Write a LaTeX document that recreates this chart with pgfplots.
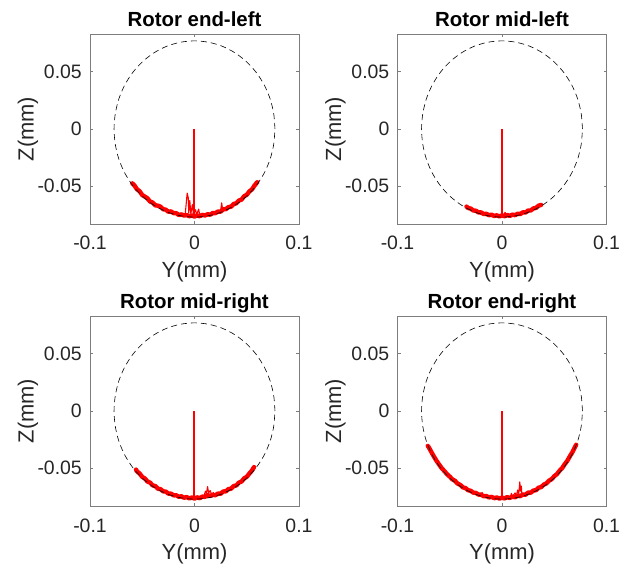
\documentclass[border=0pt]{standalone}
\usepackage{fontspec}
\setmainfont{Liberation Sans}
\usepackage{pgfplots}
\usepackage{pgfplotstable}
\pgfplotsset{compat=1.18}
\definecolor{axgray}{RGB}{125,125,125}
\definecolor{txt}{RGB}{38,38,38}

\pgfplotstableread{
x y
0.0770 0
0.0758 0.0134
0.0724 0.0263
0.0667 0.0385
0.0590 0.0495
0.0495 0.0590
0.0385 0.0667
0.0263 0.0724
0.0134 0.0758
0 0.0770
-0.0134 0.0758
-0.0263 0.0724
-0.0385 0.0667
-0.0495 0.0590
-0.0590 0.0495
-0.0667 0.0385
-0.0724 0.0263
-0.0758 0.0134
-0.0770 0
-0.0758 -0.0134
-0.0724 -0.0263
-0.0667 -0.0385
-0.0590 -0.0495
-0.0495 -0.0590
-0.0385 -0.0667
-0.0263 -0.0724
-0.0134 -0.0758
0 -0.0770
0.0134 -0.0758
0.0263 -0.0724
0.0385 -0.0667
0.0495 -0.0590
0.0590 -0.0495
0.0667 -0.0385
0.0724 -0.0263
0.0758 -0.0134
0.0770 0
}\circdata

\pgfplotstableread{
x y
-0.0595 -0.0475
-0.0575 -0.0493
-0.055 -0.0527
-0.0525 -0.0544
-0.050 -0.0577
-0.0475 -0.0591
-0.045 -0.0606
-0.0425 -0.0634
-0.040 -0.0643
-0.0375 -0.0667
-0.035 -0.0670
-0.0325 -0.0679
-0.030 -0.0701
-0.0275 -0.0705
-0.025 -0.0723
-0.0225 -0.0720
-0.020 -0.0735
-0.0175 -0.0735
-0.015 -0.0751
-0.0125 -0.0746
-0.010 -0.0756
-0.0075 -0.0752
-0.005 -0.0762
-0.0025 -0.0755
0 -0.0765
0.0025 -0.0755
0.005 -0.0762
0.0075 -0.0750
0.010 -0.0756
0.0125 -0.0745
0.015 -0.0749
0.0175 -0.0734
0.020 -0.0735
0.0225 -0.0721
0.025 -0.0722
0.0275 -0.0702
0.030 -0.0701
0.0325 -0.0682
0.035 -0.0679
0.0375 -0.0655
0.040 -0.0649
0.0425 -0.0625
0.045 -0.0617
0.0475 -0.0587
0.050 -0.0575
0.0525 -0.0545
0.055 -0.0528
0.0575 -0.0493
0.060 -0.0465
}\arcA

\pgfplotstableread{
x y
-0.040 -0.0655
-0.037 -0.0650
-0.034 -0.0690
-0.030 -0.0688
-0.026 -0.0722
-0.020 -0.0722
-0.012 -0.0760
-0.009 -0.0757
-0.007 -0.0560
-0.006 -0.0600
-0.0055 -0.0735
-0.0045 -0.0625
-0.0035 -0.0740
-0.002 -0.0660
-0.001 -0.0745
0.001 -0.0705
0.002 -0.0750
0.004 -0.0700
0.005 -0.0755
0.008 -0.0748
0.015 -0.0742
0.020 -0.0728
0.025 -0.0718
0.026 -0.0645
0.027 -0.0712
0.032 -0.0677
0.036 -0.0668
0.041 -0.0635
0.046 -0.0600
}\spikeA

\pgfplotstableread{
x y
-0.034 -0.0678
-0.0325 -0.0690
-0.030 -0.0695
-0.0275 -0.0712
-0.025 -0.0714
-0.0225 -0.0729
-0.020 -0.0729
-0.0175 -0.0743
-0.015 -0.0741
-0.0125 -0.0753
-0.010 -0.0749
-0.0075 -0.0760
-0.005 -0.0754
-0.0025 -0.0764
0 -0.0755
0.0025 -0.0762
0.005 -0.0752
0.0075 -0.0759
0.010 -0.0748
0.0125 -0.0753
0.015 -0.0740
0.0175 -0.0743
0.020 -0.0728
0.0225 -0.0730
0.025 -0.0712
0.0275 -0.0712
0.030 -0.0694
0.0325 -0.0690
0.035 -0.0670
0.0375 -0.0663
}\arcB

\pgfplotstableread{
x y
-0.010 -0.0762
-0.004 -0.0768
0.001 -0.0758
0.003 -0.0728
0.004 -0.0755
0.010 -0.0740
}\spikeB

\pgfplotstableread{
x y
-0.056 -0.0512
-0.055 -0.0528
-0.0525 -0.0546
-0.050 -0.0576
-0.0475 -0.0590
-0.045 -0.0616
-0.0425 -0.0626
-0.040 -0.0650
-0.0375 -0.0656
-0.035 -0.0679
-0.0325 -0.0683
-0.030 -0.0702
-0.0275 -0.0704
-0.025 -0.0722
-0.0225 -0.0722
-0.020 -0.0737
-0.0175 -0.0736
-0.015 -0.0750
-0.0125 -0.0745
-0.010 -0.0758
-0.0075 -0.0752
-0.005 -0.0763
-0.0025 -0.0756
0 -0.0765
0.0025 -0.0754
0.005 -0.0762
0.0075 -0.0748
0.010 -0.0750
0.0125 -0.0735
0.015 -0.0742
0.0175 -0.0733
0.020 -0.0736
0.0225 -0.0721
0.025 -0.0723
0.0275 -0.0703
0.030 -0.0702
0.0325 -0.0682
0.035 -0.0679
0.0375 -0.0656
0.040 -0.0650
0.0425 -0.0626
0.045 -0.0616
0.0475 -0.0589
0.050 -0.0575
0.0525 -0.0546
0.055 -0.0520
0.057 -0.0490
}\arcC

\pgfplotstableread{
x y
-0.045 -0.0602
-0.040 -0.0638
-0.035 -0.0668
-0.030 -0.0694
-0.022 -0.0735
-0.012 -0.0760
0.002 -0.0768
0.009 -0.0745
0.0105 -0.0700
0.0115 -0.0722
0.0125 -0.0660
0.0135 -0.0715
0.015 -0.0695
0.0165 -0.0735
0.018 -0.0712
0.019 -0.0740
0.030 -0.0690
0.040 -0.0640
0.048 -0.0580
}\spikeC

\pgfplotstableread{
x y
-0.071 -0.0305
-0.070 -0.0318
-0.0675 -0.0360
-0.065 -0.0400
-0.0625 -0.0437
-0.060 -0.0470
-0.0575 -0.0502
-0.055 -0.0526
-0.0525 -0.0553
-0.050 -0.0573
-0.0475 -0.0597
-0.045 -0.0610
-0.0425 -0.0634
-0.040 -0.0645
-0.0375 -0.0667
-0.035 -0.0673
-0.0325 -0.0692
-0.030 -0.0697
-0.0275 -0.0713
-0.025 -0.0716
-0.0225 -0.0730
-0.020 -0.0731
-0.0175 -0.0745
-0.015 -0.0743
-0.0125 -0.0755
-0.010 -0.0750
-0.0075 -0.0762
-0.005 -0.0755
-0.0025 -0.0765
0 -0.0757
0.0025 -0.0764
0.005 -0.0752
0.0075 -0.0760
0.010 -0.0748
0.0125 -0.0754
0.015 -0.0740
0.0175 -0.0744
0.020 -0.0729
0.0225 -0.0732
0.025 -0.0713
0.0275 -0.0714
0.030 -0.0695
0.0325 -0.0692
0.035 -0.0670
0.0375 -0.0665
0.040 -0.0643
0.0425 -0.0633
0.045 -0.0608
0.0475 -0.0596
0.050 -0.0570
0.0525 -0.0552
0.055 -0.0523
0.0575 -0.0500
0.060 -0.0465
0.0625 -0.0435
0.065 -0.0395
0.0675 -0.0358
0.070 -0.0312
0.071 -0.0295
}\arcD

\pgfplotstableread{
x y
-0.055 -0.0535
-0.045 -0.0618
-0.030 -0.0705
-0.020 -0.0731
-0.019 -0.0712
-0.018 -0.0742
-0.010 -0.0762
0.000 -0.0768
0.008 -0.0755
0.009 -0.0720
0.010 -0.0750
0.0125 -0.0715
0.0135 -0.0748
0.015 -0.0690
0.016 -0.0730
0.017 -0.0620
0.0178 -0.0700
0.0185 -0.0655
0.019 -0.0725
0.021 -0.0735
0.035 -0.0680
0.050 -0.0580
0.060 -0.0478
}\spikeD

\pgfplotstableread{
x y
0 0
0 -0.0740
}\stem

\pgfplotsset{
 rotorax/.style={
  width=209bp, height=190bp, scale only axis, anchor=south west,
  xmin=-0.1, xmax=0.1, ymin=-0.083, ymax=0.083,
  scaled x ticks=false, scaled y ticks=false,
  xtick={-0.1,0,0.1}, xticklabels={-0.1,0,0.1},
  ytick={-0.05,0,0.05}, yticklabels={-0.05,0,0.05},
  tick align=inside, major tick length=3bp,
  axis line style={axgray, line width=0.6bp},
  every tick/.style={axgray, line width=0.6bp},
  tick label style={font=\fontsize{19.5}{21}\selectfont, text=txt},
  xticklabel style={anchor=base, yshift=-26bp, inner sep=0pt},
  yticklabel style={anchor=east, inner sep=0pt, xshift=-8bp},
  xlabel={Y(mm)}, ylabel={Z(mm)},
  every axis x label/.style={at={(axis description cs:0.5,-0.284)}, anchor=base, font=\fontsize{22}{24}\selectfont, text=txt, inner sep=0pt},
  every axis y label/.style={at={(axis description cs:-0.27,0.5)}, rotate=90, anchor=base, font=\fontsize{22}{24}\selectfont, text=txt, inner sep=0pt},
  every axis title/.style={at={(axis description cs:0.5,1.042)}, anchor=base, font=\bfseries\fontsize{20.5}{22}\selectfont, text=black, inner sep=0pt},
 },
 arcstyle/.style={red, line width=4.4bp, line join=round, line cap=round},
 spikestyle/.style={red, line width=1.1bp, line join=round},
 circstyle/.style={black, line width=0.6bp, dash pattern=on 6bp off 4bp, smooth},
 stemstyle/.style={red, line width=2bp},
}

\begin{document}
\begin{tikzpicture}
\path[use as bounding box] (0,0) rectangle (619bp,569bp);

\begin{axis}[rotorax, at={(90bp,345bp)}, title={Rotor end-left}]
\addplot[arcstyle] table {\arcA};
\addplot[spikestyle] table {\spikeA};
\addplot[stemstyle] table {\stem};
\addplot[circstyle] table {\circdata};
\end{axis}

\begin{axis}[rotorax, at={(397.5bp,345bp)}, title={Rotor mid-left}]
\addplot[arcstyle] table {\arcB};
\addplot[spikestyle] table {\spikeB};
\addplot[stemstyle] table {\stem};
\addplot[circstyle] table {\circdata};
\end{axis}

\begin{axis}[rotorax, at={(90bp,63bp)}, title={Rotor mid-right}]
\addplot[arcstyle] table {\arcC};
\addplot[spikestyle] table {\spikeC};
\addplot[stemstyle] table {\stem};
\addplot[circstyle] table {\circdata};
\end{axis}

\begin{axis}[rotorax, at={(397.5bp,63bp)}, title={Rotor end-right}]
\addplot[arcstyle] table {\arcD};
\addplot[spikestyle] table {\spikeD};
\addplot[stemstyle] table {\stem};
\addplot[circstyle] table {\circdata};
\end{axis}
\end{tikzpicture}
\end{document}
